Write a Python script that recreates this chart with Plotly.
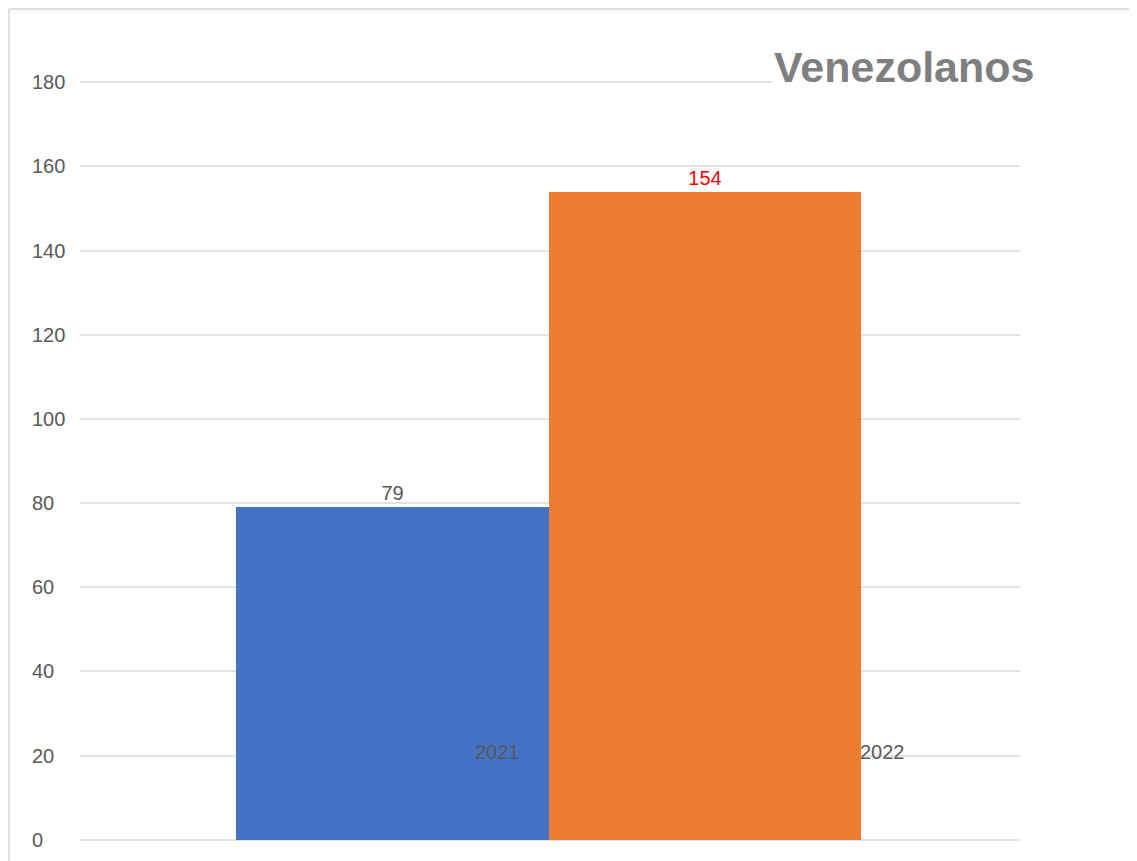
import plotly.graph_objects as go

# Data
categories = ["2021", "2022"]
values = [79, 154]
bar_colors = ["#4472C4", "#ED7D31"]
label_colors = ["#595959", "#FF0000"]
y_ticks = [0, 20, 40, 60, 80, 100, 120, 140, 160, 180]
title_text = "Venezolanos"

# page has an 8px body margin
OFF = 8
W, H = 1137 - OFF, 861 - OFF
L, R, T, B = 72, 117, 70, 17
pw, ph = W - L - R, H - T - B
PL, PB = OFF + L, OFF + H - B  # page coords of plot left / bottom

def px_x(p):
    return (p - PL) / pw

def px_y(p):
    return (PB - p) / ph

FONT = "Liberation Sans"

fig = go.Figure()
fig.add_trace(go.Bar(
    x=categories,
    y=values,
    marker=dict(color=bar_colors, line=dict(width=0)),
    width=1,
    text=[str(v) for v in values],
    textposition="outside",
    textfont=dict(family=FONT, size=20, color=label_colors),
    cliponaxis=False,
    showlegend=False,
))

annotations = []
for t in y_ticks:
    annotations.append(dict(
        x=px_x(30), xref="paper", xanchor="left",
        y=t, yref="y", yanchor="middle",
        text=str(t), showarrow=False,
        font=dict(family=FONT, size=20, color="#595959"),
    ))
shifts = [105, 177]
for i, (c, s) in enumerate(zip(categories, shifts)):
    annotations.append(dict(
        x=i, xref="x", xanchor="center", xshift=s,
        y=0, yref="y", yanchor="middle", yshift=88,
        text=c, showarrow=False,
        font=dict(family=FONT, size=20, color="#595959"),
    ))
annotations.append(dict(
    x=px_x(904), xref="paper", xanchor="center",
    y=px_y(67), yref="paper", yanchor="middle",
    text=title_text, showarrow=False,
    font=dict(family=FONT, size=43, color="#7F7F7F", weight="bold"),
    bgcolor="white",
))

shapes = [
    dict(type="line", xref="paper", yref="paper",
         x0=px_x(OFF + 1), x1=px_x(OFF + W), y0=px_y(OFF + 1), y1=px_y(OFF + 1),
         line=dict(color="#E0E0E0", width=2)),
    dict(type="line", xref="paper", yref="paper",
         x0=px_x(OFF + 1), x1=px_x(OFF + 1), y0=px_y(OFF + 1), y1=px_y(OFF + H),
         line=dict(color="#E0E0E0", width=2)),
]

fig.update_layout(
    width=W, height=H, autosize=False,
    margin=dict(l=L, r=R, t=T, b=B, pad=0),
    paper_bgcolor="white", plot_bgcolor="white",
    bargap=0,
    xaxis=dict(type="category", range=[-1.0, 2.008], showticklabels=False,
               showgrid=False, zeroline=False, showline=False, ticks=""),
    yaxis=dict(range=[-1, 181], tickvals=y_ticks, showticklabels=False,
               showgrid=True, gridcolor="#E3E3E3", gridwidth=2,
               zeroline=False, showline=False, ticks=""),
    annotations=annotations,
    shapes=shapes,
)

fig.write_html("out.html")
